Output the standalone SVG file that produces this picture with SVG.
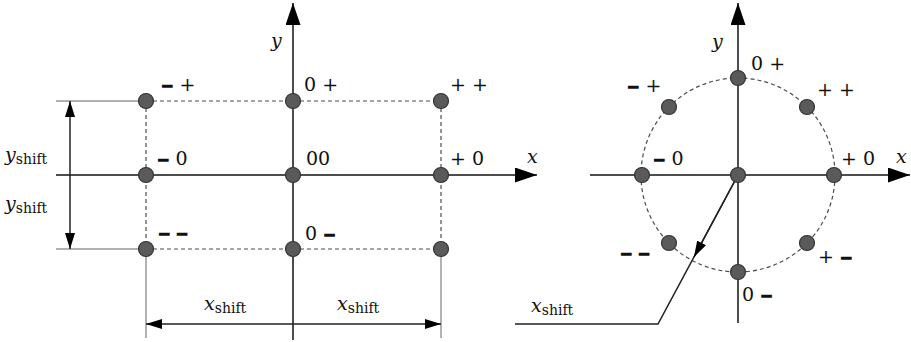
<svg xmlns="http://www.w3.org/2000/svg" width="911" height="342" viewBox="0 0 911 342">
<style>
.ax{stroke:#4d4d4d;stroke-width:2;fill:none}
.ext{stroke:#999;stroke-width:1.5;fill:none}
.dash{stroke:#4d4d4d;stroke-width:1.2;stroke-dasharray:4 3;fill:none}
.dim{stroke:#222;stroke-width:1.5;fill:none}
.pt{fill:#5a5a5a;stroke:#333;stroke-width:1.2}
text{font-family:"DejaVu Serif",serif;font-size:19px;fill:#111}
.m{font-weight:bold;font-size:15px;stroke:#111;stroke-width:1.3}
.it{font-style:italic}
.sub{font-size:14px;font-style:normal}
</style>
<defs>
<marker id="big" viewBox="0 0 10 10" refX="10" refY="5" markerWidth="22" markerHeight="15" markerUnits="userSpaceOnUse" orient="auto" preserveAspectRatio="none"><path d="M0,0 L10,5 L0,10 z" fill="#000"/></marker>
<marker id="mid" viewBox="0 0 10 10" refX="10" refY="5" markerWidth="16" markerHeight="10" markerUnits="userSpaceOnUse" orient="auto" preserveAspectRatio="none"><path d="M0,0 L10,5 L0,10 z" fill="#000"/></marker>
</defs>
<g id="connectors">
<line class="ax" x1="56" y1="175" x2="537" y2="175" marker-end="url(#big)"/>
<line class="ax" x1="293" y1="340" x2="293" y2="3" marker-end="url(#big)"/>
<line class="ext" x1="56" y1="101" x2="146" y2="101"/>
<line class="ext" x1="56" y1="249" x2="146" y2="249"/>
<line class="ext" x1="146" y1="249" x2="146" y2="338"/>
<line class="ext" x1="441" y1="249" x2="441" y2="338"/>
<line class="dash" x1="146" y1="101" x2="441" y2="101"/>
<line class="dash" x1="146" y1="249" x2="441" y2="249"/>
<line class="dash" x1="146" y1="101" x2="146" y2="249"/>
<line class="dash" x1="441" y1="101" x2="441" y2="249"/>
<line class="dim" x1="70" y1="175" x2="70" y2="101" marker-end="url(#mid)"/>
<line class="dim" x1="70" y1="175" x2="70" y2="249" marker-end="url(#mid)"/>
<line class="dim" x1="293" y1="324" x2="146" y2="324" marker-end="url(#mid)"/>
<line class="dim" x1="293" y1="324" x2="441" y2="324" marker-end="url(#mid)"/>
<line class="ax" x1="590" y1="175" x2="910" y2="175" marker-end="url(#big)"/>
<line class="ax" x1="738" y1="323" x2="738" y2="3" marker-end="url(#big)"/>
<circle class="dash" cx="738" cy="175" r="97"/>
<polyline class="dim" points="515,324 658,324 738,175"/>
<line class="dim" x1="738" y1="175" x2="694" y2="257" marker-end="url(#mid)"/>
</g>
<g id="left-points">
<g id="Lmp"><circle class="pt" cx="146" cy="101" r="7.5"/><text x="161" y="91"><tspan class="m">−</tspan> +</text></g>
<g id="L0p"><circle class="pt" cx="293" cy="101" r="7.5"/><text x="304" y="91">0 +</text></g>
<g id="Lpp"><circle class="pt" cx="441" cy="101" r="7.5"/><text x="450" y="91">+ +</text></g>
<g id="Lm0"><circle class="pt" cx="146" cy="175" r="7.5"/><text x="157" y="165"><tspan class="m">−</tspan> 0</text></g>
<g id="L00"><circle class="pt" cx="293" cy="175" r="7.5"/><text x="306" y="165">00</text></g>
<g id="Lp0"><circle class="pt" cx="441" cy="175" r="7.5"/><text x="450" y="165">+ 0</text></g>
<g id="Lmm"><circle class="pt" cx="146" cy="249" r="7.5"/><text class="m" x="158" y="239">− −</text></g>
<g id="L0m"><circle class="pt" cx="293" cy="249" r="7.5"/><text x="305" y="240">0 <tspan class="m">−</tspan></text></g>
<g id="Lpm"><circle class="pt" cx="441" cy="249" r="7.5"/></g>
</g>
<g id="left-labels">
<text class="it" x="271" y="47">y</text>
<text class="it" x="527" y="163">x</text>
<text class="it" x="5" y="161">y<tspan class="sub" dy="3">shift</tspan></text>
<text class="it" x="5" y="210">y<tspan class="sub" dy="3">shift</tspan></text>
<text class="it" x="204" y="310">x<tspan class="sub" dy="3">shift</tspan></text>
<text class="it" x="337" y="310">x<tspan class="sub" dy="3">shift</tspan></text>
</g>
<g id="right-points">
<g id="R0p"><circle class="pt" cx="738" cy="78" r="7.5"/><text x="751" y="70">0 +</text></g>
<g id="Rmp"><circle class="pt" cx="669" cy="107" r="7.5"/><text x="627" y="92"><tspan class="m">−</tspan> +</text></g>
<g id="Rpp"><circle class="pt" cx="807" cy="107" r="7.5"/><text x="817" y="96">+ +</text></g>
<g id="Rm0"><circle class="pt" cx="642" cy="175" r="7.5"/><text x="653" y="165"><tspan class="m">−</tspan> 0</text></g>
<g id="R00"><circle class="pt" cx="738" cy="175" r="7.5"/></g>
<g id="Rp0"><circle class="pt" cx="834" cy="175" r="7.5"/><text x="841" y="165">+ 0</text></g>
<g id="Rmm"><circle class="pt" cx="669" cy="243" r="7.5"/><text class="m" x="620" y="259">− −</text></g>
<g id="Rpm"><circle class="pt" cx="807" cy="243" r="7.5"/><text x="818" y="263">+ <tspan class="m">−</tspan></text></g>
<g id="R0m"><circle class="pt" cx="738" cy="272" r="7.5"/><text x="742" y="301">0 <tspan class="m">−</tspan></text></g>
</g>
<g id="right-labels">
<text class="it" x="712" y="48">y</text>
<text class="it" x="896" y="163">x</text>
<text class="it" x="531" y="312">x<tspan class="sub" dy="3">shift</tspan></text>
</g>
</svg>
